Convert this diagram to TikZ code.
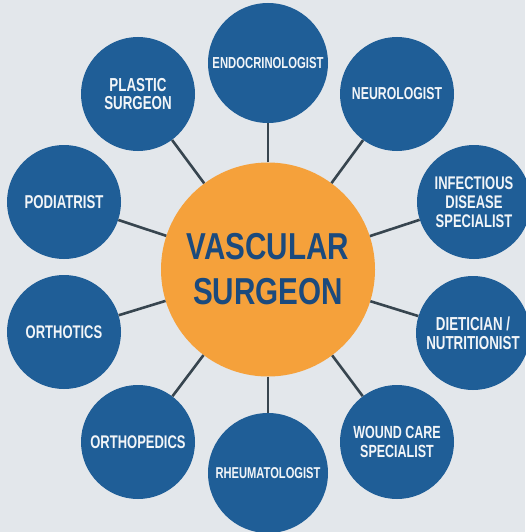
\documentclass[tikz,border=0pt]{standalone}
\usepackage{fontspec}
\setmainfont{Liberation Sans}[FakeStretch=0.79]
\newfontfamily\cnd{Liberation Sans}[FakeStretch=0.71]
\definecolor{bgc}{HTML}{E3E7EB}
\definecolor{blu}{HTML}{1F5E97}
\definecolor{org}{HTML}{F5A13B}
\definecolor{navy}{HTML}{1B4A7D}
\definecolor{lnk}{HTML}{37454F}
\definecolor{wtxt}{HTML}{F2F5F8}
\begin{document}
\begin{tikzpicture}[x=1pt,y=-1pt,
  spec/.style={circle,fill=blu,draw=none,inner sep=0pt,minimum size=114pt,text=wtxt,align=center,
    font=\cnd\bfseries\fontsize{18.3}{18.8}\selectfont},
  bigspec/.style={spec,minimum size=120pt,font=\cnd\bfseries\fontsize{15.9}{17}\selectfont},
  hub/.style={circle,fill=org,draw=none,inner sep=0pt,minimum size=214pt,text=navy,align=center,
    font=\bfseries\fontsize{37.5}{45}\selectfont},
  link/.style={draw=lnk,line width=2.6pt}]
\fill[bgc] (0,0) rectangle (525,532);
\useasboundingbox (0,0) rectangle (525,532);
\node[hub] (c) at (268,269.5) {VASCULAR\\SURGEON};
\node[bigspec] (endo) at (268,63) {ENDOCRINOLOGIST};
\node[spec,font=\cnd\bfseries\fontsize{17.3}{18.8}\selectfont] (neuro) at (397,94) {NEUROLOGIST};
\node[spec] (inf) at (474,202) {INFECTIOUS\\DISEASE\\SPECIALIST};
\node[spec,font=\cnd\bfseries\fontsize{18.8}{19}\selectfont] (diet) at (473,333) {DIETICIAN /\\NUTRITIONIST};
\node[spec,font=\cnd\bfseries\fontsize{17.6}{18.8}\selectfont] (wound) at (397,442) {WOUND CARE\\SPECIALIST};
\node[bigspec,font=\cnd\bfseries\fontsize{15.7}{17}\selectfont] (rheum) at (268,473) {RHEUMATOLOGIST};
\node[spec] (orthop) at (138,442) {ORTHOPEDICS};
\node[spec] (orthot) at (64,332) {ORTHOTICS};
\node[spec,font=\cnd\bfseries\fontsize{18.6}{19}\selectfont] (podi) at (64,202) {PODIATRIST};
\node[spec,font=\cnd\bfseries\fontsize{18.8}{18.8}\selectfont] (plast) at (138,94) {PLASTIC\\SURGEON};
\foreach \n in {endo,neuro,inf,diet,wound,rheum,orthop,orthot,podi,plast}
  \draw[link] (c) -- (\n);
\end{tikzpicture}
\end{document}
